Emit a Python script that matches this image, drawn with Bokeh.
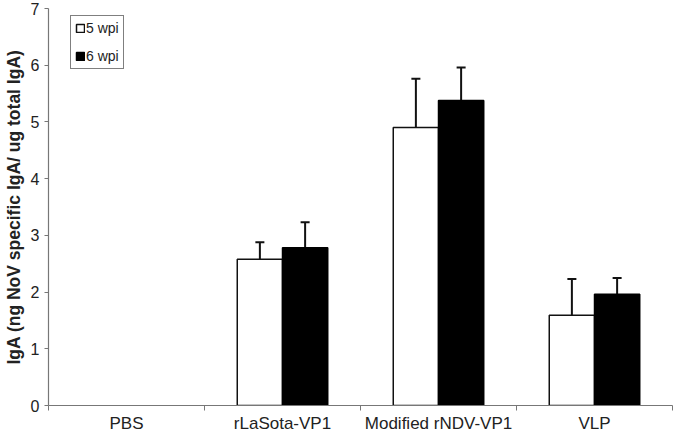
from bokeh.plotting import figure
from bokeh.models import (Range1d, FixedTicker, ColumnDataSource, Whisker, TeeHead,
                          Legend, LegendItem)
from bokeh.embed import file_html
from bokeh.resources import INLINE

categories = ["PBS", "rLaSota-VP1", "Modified rNDV-VP1", "VLP"]
wpi5 = [0.0, 2.58, 4.90, 1.59]
wpi5_err = [0.0, 0.30, 0.86, 0.64]
wpi6 = [0.0, 2.78, 5.38, 1.96]
wpi6_err = [0.0, 0.45, 0.58, 0.29]
y_ticks = [0, 1, 2, 3, 4, 5, 6, 7]
series_labels = ["5 wpi", "6 wpi"]

FONT = "Liberation Sans"
BAR_W = 0.29

p = figure(width=676, height=435, output_backend="svg", toolbar_location=None,
           x_range=Range1d(0, len(categories)), y_range=Range1d(0, 7),
           min_border_left=48, min_border_right=4, min_border_top=8, min_border_bottom=27)
p.outline_line_color = None
p.grid.visible = False
p.background_fill_color = "white"
p.border_fill_color = "white"

# y axis
ya = p.yaxis[0]
ya.ticker = FixedTicker(ticks=y_ticks)
ya.axis_line_color = "#777777"
ya.axis_line_width = 1.2
ya.major_tick_line_color = "#777777"
ya.major_tick_out = 4
ya.major_tick_in = 0
ya.minor_tick_line_color = None
ya.major_label_text_font = FONT
ya.major_label_text_font_size = "16px"
ya.major_label_text_color = "#222222"
ya.major_label_standoff = 5
ya.axis_label = "IgA (ng NoV specific IgA/ ug total IgA)"
ya.axis_label_text_font = FONT
ya.axis_label_text_font_style = "bold"
ya.axis_label_text_font_size = "17.5px"
ya.axis_label_text_color = "#222222"
ya.axis_label_standoff = 4

# x axis: labels at centres, ticks at boundaries
centres = [i + 0.5 for i in range(len(categories))]
bounds = list(range(len(categories) + 1))
xa = p.xaxis[0]
xa.axis_label = None
xa.ticker = FixedTicker(ticks=centres, minor_ticks=bounds)
xa.major_label_overrides = {c: name for c, name in zip(centres, categories)}
xa.axis_line_color = "#777777"
xa.axis_line_width = 1.2
xa.major_tick_line_color = None
xa.major_tick_out = 0
xa.major_tick_in = 0
xa.minor_tick_line_color = "#777777"
xa.minor_tick_out = 5
xa.minor_tick_in = 0
xa.major_label_text_font = FONT
xa.major_label_text_font_size = "17px"
xa.major_label_text_color = "#222222"
xa.major_label_standoff = 3

def build(values, errs, offset):
    xs, tops, ups = [], [], []
    for i, (v, e) in enumerate(zip(values, errs)):
        if v > 0:
            xs.append(i + 0.5 + offset)
            tops.append(v)
            ups.append(v + e)
    return ColumnDataSource(dict(x=xs, top=tops, upper=ups))

s5 = build(wpi5, wpi5_err, -BAR_W / 2)
s6 = build(wpi6, wpi6_err, BAR_W / 2)

for s in (s5, s6):
    w = Whisker(source=s, base="x", lower="top", upper="upper", dimension="height",
                line_color="#111111", line_width=2,
                upper_head=TeeHead(size=9, line_color="#111111", line_width=2),
                lower_head=None, level="underlay")
    p.add_layout(w)

r5 = p.vbar(x="x", top="top", bottom=0, width=BAR_W, source=s5,
            fill_color="white", line_color="#111111", line_width=1.5)
r6 = p.vbar(x="x", top="top", bottom=0, width=BAR_W, source=s6,
            fill_color="black", line_color="black", line_width=1.5)

legend = Legend(items=[LegendItem(label=series_labels[0], renderers=[r5]),
                       LegendItem(label=series_labels[1], renderers=[r6])],
                location=(22, 336))
legend.border_line_color = "black"
legend.border_line_width = 1
legend.background_fill_alpha = 1
legend.label_text_font = FONT
legend.label_text_font_size = "14px"
legend.label_text_color = "#222222"
legend.glyph_width = 10
legend.glyph_height = 10
legend.label_standoff = 1
legend.padding = 4
legend.spacing = 12
legend.margin = 0
p.add_layout(legend, "center")

open("out.html", "w").write(file_html(p, INLINE))
